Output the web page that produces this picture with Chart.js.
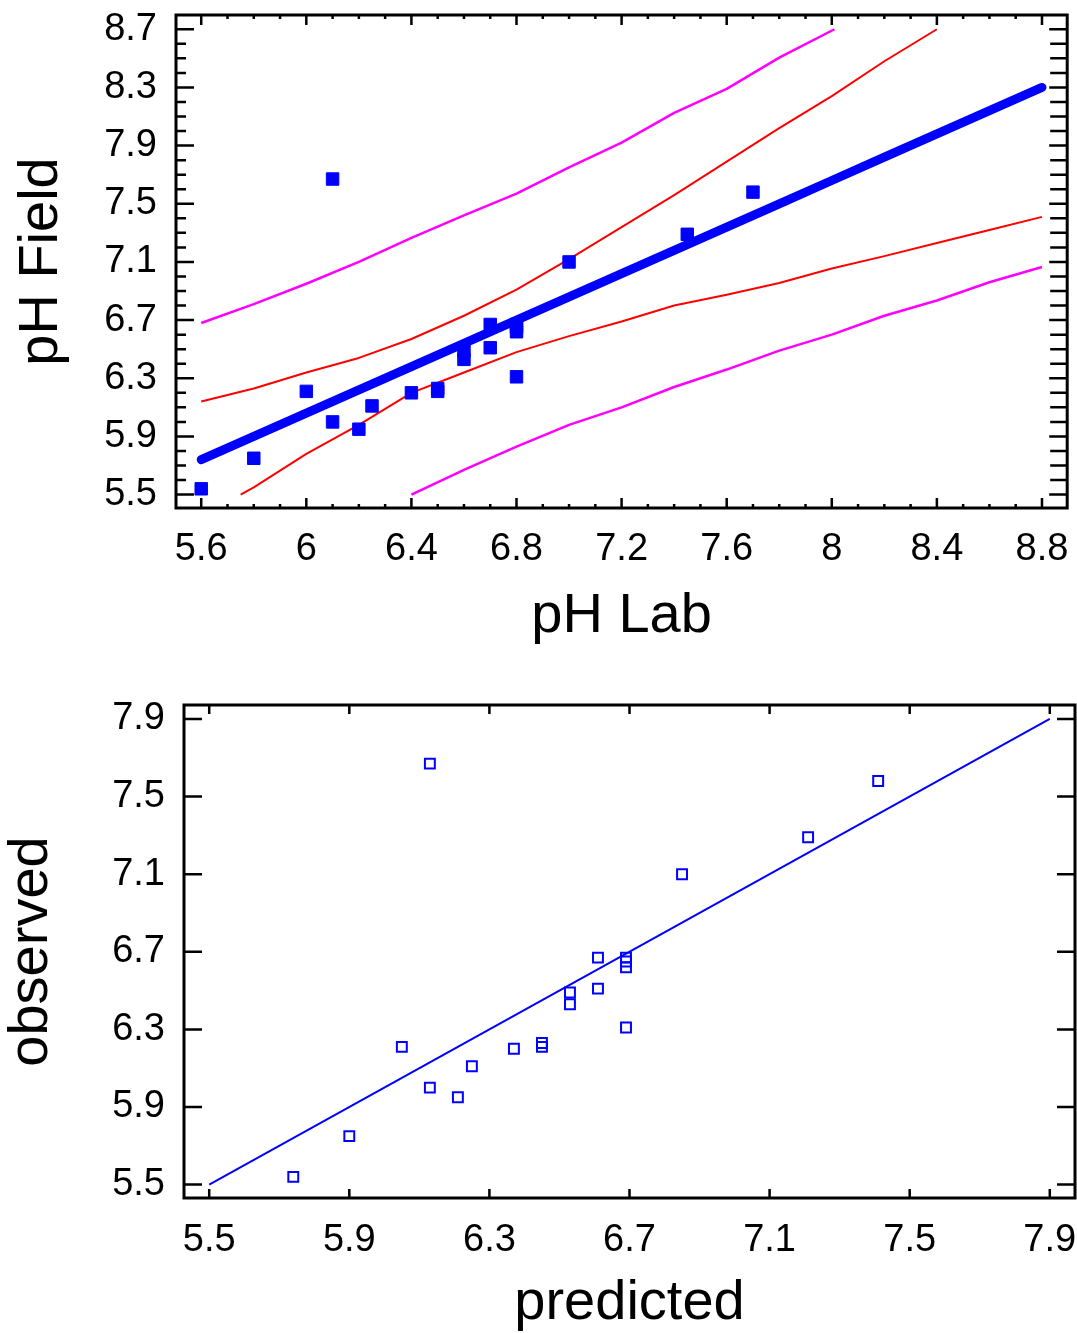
<!DOCTYPE html>
<html><head><meta charset="utf-8">
<script src="https://cdn.jsdelivr.net/npm/chart.js@4.4.1/dist/chart.umd.min.js"></script>
<style>html,body{margin:0;padding:0;background:#fff;overflow:hidden;} .wrap{position:absolute;left:0;overflow:hidden;width:1077px;} canvas{display:block;}</style>
</head><body>
<div class="wrap" style="top:0;height:650px"><canvas id="top" width="1077" height="650"></canvas></div>
<div class="wrap" style="top:650px;height:683px"><canvas id="bottom" width="1084" height="683"></canvas></div>
<script>
// ---- data ----
const labPH      = [5.6, 5.8, 6.0, 6.1, 6.1, 6.2, 6.25, 6.4, 6.5, 6.5, 6.6, 6.6, 6.7, 6.7, 6.8, 6.8, 6.8, 6.8, 7.0, 7.45, 7.7];
const fieldPH    = [5.54, 5.75, 6.21, 7.67, 6.0, 5.95, 6.11, 6.2, 6.23, 6.21, 6.49, 6.43, 6.67, 6.51, 6.67, 6.65, 6.62, 6.31, 7.10, 7.29, 7.58];
const predictedPH= [5.74, 5.90, 6.05, 6.13, 6.13, 6.21, 6.25, 6.37, 6.45, 6.45, 6.53, 6.53, 6.61, 6.61, 6.69, 6.69, 6.69, 6.69, 6.85, 7.21, 7.41];

const fitX = [5.6, 5.8, 6.0, 6.2, 6.4, 6.6, 6.8, 7.0, 7.2, 7.4, 7.6, 7.8, 8.0, 8.2, 8.4, 8.6, 8.8];
const fitY = [5.74, 5.90, 6.06, 6.22, 6.38, 6.54, 6.70, 6.86, 7.02, 7.18, 7.34, 7.50, 7.66, 7.82, 7.98, 8.14, 8.30];

const confUpperX = [5.6, 5.8, 6.0, 6.2, 6.4, 6.6, 6.8, 7.0, 7.2, 7.4, 7.6, 7.8, 8.0, 8.2, 8.4];
const confUpperY = [6.14, 6.23, 6.34, 6.44, 6.57, 6.73, 6.91, 7.12, 7.34, 7.56, 7.79, 8.02, 8.24, 8.48, 8.70];
const confLowerX = [5.75, 5.8, 6.0, 6.2, 6.4, 6.6, 6.8, 7.0, 7.2, 7.4, 7.6, 7.8, 8.0, 8.2, 8.4, 8.6, 8.8];
const confLowerY = [5.50, 5.55, 5.78, 5.98, 6.20, 6.34, 6.48, 6.59, 6.69, 6.80, 6.875, 6.955, 7.055, 7.14, 7.23, 7.32, 7.41];

const predUpperX = [5.6, 5.8, 6.0, 6.2, 6.4, 6.6, 6.8, 7.0, 7.2, 7.4, 7.6, 7.8, 8.01];
const predUpperY = [6.68, 6.81, 6.95, 7.10, 7.265, 7.42, 7.57, 7.75, 7.92, 8.125, 8.29, 8.505, 8.70];
const predLowerX = [6.4, 6.6, 6.8, 7.0, 7.2, 7.4, 7.6, 7.8, 8.0, 8.2, 8.4, 8.6, 8.8];
const predLowerY = [5.50, 5.67, 5.83, 5.98, 6.10, 6.24, 6.36, 6.49, 6.60, 6.73, 6.835, 6.96, 7.065];

const diagX = [5.5, 7.9];
const diagY = [5.5, 7.9];

const topXTicks = [5.6, 6.0, 6.4, 6.8, 7.2, 7.6, 8.0, 8.4, 8.8];
const topYTicks = [5.5, 5.9, 6.3, 6.7, 7.1, 7.5, 7.9, 8.3, 8.7];
const botXTicks = [5.5, 5.9, 6.3, 6.7, 7.1, 7.5, 7.9];
const botYTicks = [5.5, 5.9, 6.3, 6.7, 7.1, 7.5, 7.9];

// ---- helpers ----
const pts = (xs, ys) => xs.map((x, i) => ({x, y: ys[i]}));
const fmt = v => String(Number(Number(v).toFixed(1)));
const FONT = '"Liberation Sans", Arial, sans-serif';
const minorList = (start, n, skipEvery) => { const a = []; for (let i = 0; i <= n; i++) if (i % skipEvery) a.push(+(start + i * 0.1).toFixed(1)); return a; };

const frameTicks = {
  id: 'frameTicks',
  afterDraw(chart, args, o) {
    const {ctx, chartArea: a} = chart;
    const x = chart.scales.x, y = chart.scales.y;
    ctx.save();
    ctx.strokeStyle = '#000';
    ctx.lineCap = 'butt';
    ctx.lineWidth = o.tickWidth;
    ctx.beginPath();
    const hx = (vals, len) => vals.forEach(v => { const p = x.getPixelForValue(v);
      ctx.moveTo(p, a.bottom); ctx.lineTo(p, a.bottom - len);
      ctx.moveTo(p, a.top); ctx.lineTo(p, a.top + len); });
    const vy = (vals, lenL, lenR) => vals.forEach(v => { const p = y.getPixelForValue(v);
      ctx.moveTo(a.left, p); ctx.lineTo(a.left + lenL, p);
      ctx.moveTo(a.right, p); ctx.lineTo(a.right - lenR, p); });
    hx(o.xMajor, o.xMajorLen);
    hx(o.xMinor || [], o.xMinorLen || 0);
    vy(o.yMajor, o.yMajorLen, o.yMajorLen);
    vy(o.yMinor || [], o.yMinorLenL || 0, o.yMinorLenR || 0);
    ctx.stroke();
    ctx.lineWidth = o.frameWidth;
    ctx.strokeRect(a.left, a.top, a.right - a.left, a.bottom - a.top);
    ctx.restore();
  }
};

function axis(opts) {
  return {
    type: 'linear',
    position: opts.position,
    min: opts.min, max: opts.max,
    grid: {display: false, drawTicks: false},
    border: {display: false},
    afterBuildTicks: s => { s.ticks = opts.ticks.map(v => ({value: v})); },
    afterFit: s => {
      if (opts.width !== undefined) s.width = opts.width;
      if (opts.height !== undefined) s.height = opts.height;
      s.paddingTop = 0; s.paddingBottom = 0; s.paddingLeft = 0; s.paddingRight = 0;
    },
    ticks: {
      autoSkip: false, maxRotation: 0, minRotation: 0,
      padding: opts.tickPad,
      color: '#000',
      font: {family: FONT, size: 38, lineHeight: 1.2},
      callback: v => fmt(v)
    },
    title: {
      display: true, text: opts.title, color: '#000',
      font: {family: FONT, size: 56, lineHeight: 1.0},
      padding: opts.titlePad
    }
  };
}

const lineDs = (xs, ys, color, w, cap) => ({
  data: pts(xs, ys), showLine: true, pointRadius: 0, borderColor: color,
  borderWidth: w, fill: false, tension: 0, borderCapStyle: cap || 'butt', borderJoinStyle: 'round'
});

Chart.defaults.animation = false;

new Chart(document.getElementById('top'), {
  type: 'scatter',
  data: {
    datasets: [
      {data: pts(labPH, fieldPH), pointStyle: 'rect', pointRadius: 8.8, pointHoverRadius: 8.8,
       backgroundColor: '#0000ff', borderColor: '#0000ff', borderWidth: 1, showLine: false},
      lineDs(fitX, fitY, '#0000ff', 9, 'round'),
      lineDs(confUpperX, confUpperY, '#ff0000', 2),
      lineDs(confLowerX, confLowerY, '#ff0000', 2),
      lineDs(predUpperX, predUpperY, '#ff00ff', 2.5),
      lineDs(predLowerX, predLowerY, '#ff00ff', 2.5)
    ]
  },
  options: {
    responsive: false, devicePixelRatio: 1,
    layout: {padding: {top: 15, right: 9, left: 0, bottom: 0}},
    plugins: {
      legend: {display: false}, tooltip: {enabled: false},
      frameTicks: {
        tickWidth: 2.5, frameWidth: 3,
        xMajor: topXTicks, xMajorLen: 10, xMinor: minorList(5.6, 32, 4), xMinorLen: 4,
        yMajor: topYTicks, yMajorLen: 18, yMinor: minorList(5.5, 32, 4), yMinorLenL: 10, yMinorLenR: 17
      }
    },
    scales: {
      x: axis({position: 'bottom', min: 5.504, max: 8.896, ticks: topXTicks, height: 142, tickPad: 19,
               title: 'pH Lab', titlePad: {top: 0, bottom: 5}}),
      y: axis({position: 'left', min: 5.408, max: 8.798, ticks: topYTicks, width: 176, tickPad: 19,
               title: 'pH Field', titlePad: {top: 14, bottom: 0}})
    }
  },
  plugins: [frameTicks]
});

new Chart(document.getElementById('bottom'), {
  type: 'scatter',
  data: {
    datasets: [
      {data: pts(predictedPH, fieldPH), pointStyle: 'rect', pointRadius: 7, pointHoverRadius: 7,
       backgroundColor: 'rgba(0,0,0,0)', borderColor: '#0000ff', borderWidth: 2, showLine: false},
      lineDs(diagX, diagY, '#0000ff', 2)
    ]
  },
  options: {
    responsive: false, devicePixelRatio: 1,
    layout: {padding: {top: 55, right: 9, left: 0, bottom: 0}},
    plugins: {
      legend: {display: false}, tooltip: {enabled: false},
      frameTicks: {
        tickWidth: 2.5, frameWidth: 3,
        xMajor: botXTicks, xMajorLen: 9,
        yMajor: botYTicks, yMajorLen: 18
      }
    },
    scales: {
      x: axis({position: 'bottom', min: 5.428, max: 7.972, ticks: botXTicks, height: 135, tickPad: 20,
               title: 'predicted', titlePad: {top: 0, bottom: 1}}),
      y: axis({position: 'left', min: 5.431, max: 7.972, ticks: botYTicks, width: 184, tickPad: 19,
               title: 'observed', titlePad: {top: 4, bottom: 0}})
    }
  },
  plugins: [frameTicks]
});
</script>
</body></html>
